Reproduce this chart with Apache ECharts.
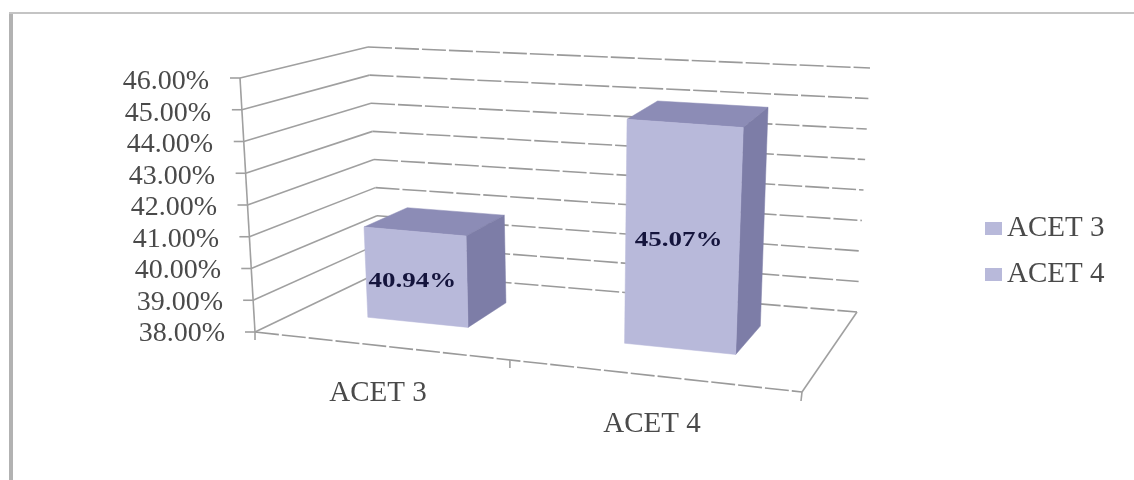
<!DOCTYPE html>
<html>
<head>
<meta charset="utf-8">
<style>html,body{margin:0;padding:0;background:#fff}#c{width:1134px;height:480px}</style>
<script src="https://cdn.jsdelivr.net/npm/echarts@6/dist/echarts.min.js"></script>
</head>
<body>
<div id="c"></div>
<script>
// Chart values
const categories = ['ACET 3', 'ACET 4'];
const acet3Values = [40.94];
const acet4Values = [45.07];
const yTicks = [38, 39, 40, 41, 42, 43, 44, 45, 46];
const yMin = 38;
const yMax = 46;

// Pixel corners of the 3D plot box: f/b = front/back, l/r = left/right, 0/1 = floor/ceiling
const box = {
  fl0: [255, 332], fr0: [802, 392], bl0: [380, 272], br0: [857, 312],
  fl1: [240, 78],  fr1: [815, 124], bl1: [368, 47],  br1: [870, 68]
};
// Footprint of each column on the floor, as fractions of the box
const footprints = [
  { u0: 0.13, u1: 0.322, v0: 0.36, v1: 0.73 },
  { u0: 0.622, u1: 0.835, v0: 0.36, v1: 0.73 }
];
const midTickU = 0.466;

const mix = (a, b, t) => [a[0] + (b[0] - a[0]) * t, a[1] + (b[1] - a[1]) * t];
function project(u, v, h) {
  const floor = mix(mix(box.fl0, box.fr0, u), mix(box.bl0, box.br0, u), v);
  const ceil = mix(mix(box.fl1, box.fr1, u), mix(box.bl1, box.br1, u), v);
  return mix(floor, ceil, h);
}
// Height fraction of a value, read through the value axis
function heightOf(api, value) {
  const y0 = api.coord([0, yMin])[1];
  const y1 = api.coord([0, yMax])[1];
  return (api.coord([0, value])[1] - y0) / (y1 - y0);
}

const lineStyle = { stroke: '#a0a0a0', lineWidth: 1.6, fill: null };
const dashedStyle = { stroke: '#9a9a9a', lineWidth: 1.6, fill: null, lineDash: [24, 3] };
const poly = (pts, style) => ({ type: 'polyline', shape: { points: pts }, style: style || lineStyle });

function renderFrameLine(params, api) {
  const value = api.value(1);
  const h = heightOf(api, value);
  const a = project(0, 0, h), b = project(0, 1, h), c = project(1, 1, h);
  const children = [
    poly([a, b]),
    poly([b, c], dashedStyle),
    poly([[a[0] - 10, a[1]], a])
  ];
  if (value === yMin) {
    const fr = project(1, 0, 0);
    const mid = project(midTickU, 0, 0);
    children.push(
      poly([a, fr], dashedStyle),
      poly([fr, c]),
      poly([a, project(0, 0, 1)]),
      poly([a, [a[0], a[1] + 8]]),
      poly([mid, [mid[0], mid[1] + 8]]),
      poly([fr, [fr[0] - 1, fr[1] + 9]])
    );
  }
  return { type: 'group', children };
}

const faceColors = { front: '#b8b9da', top: '#8c8cb6', side: '#7d7da7' };

function renderColumn(params, api) {
  const value = api.value(1);
  const slot = footprints[api.value(0)];
  const h = heightOf(api, value);
  const p = project;
  const { u0, u1, v0, v1 } = slot;
  const face = (pts, fill) => ({
    type: 'polygon', shape: { points: pts }, style: { fill: fill, stroke: fill, lineWidth: 0.5 }
  });
  const labelAt = mix(p(u0, v0, h / 2), p(u1, v0, h / 2), 0.5);
  return {
    type: 'group',
    children: [
      face([p(u0, v0, h), p(u1, v0, h), p(u1, v1, h), p(u0, v1, h)], faceColors.top),
      face([p(u1, v0, 0), p(u1, v1, 0), p(u1, v1, h), p(u1, v0, h)], faceColors.side),
      face([p(u0, v0, 0), p(u1, v0, 0), p(u1, v0, h), p(u0, v0, h)], faceColors.front),
      {
        type: 'text',
        x: labelAt[0] - 4,
        y: labelAt[1] + 5,
        scaleX: 1.35,
        style: {
          text: value.toFixed(2) + '%',
          x: 0, y: 0,
          align: 'center',
          verticalAlign: 'middle',
          fontFamily: 'Liberation Serif',
          fontWeight: 'bold',
          fontSize: 20,
          fill: '#14143c'
        }
      }
    ]
  };
}

// Tick labels step sideways to follow the slanted axis
const yRich = {};
yTicks.forEach(v => { yRich['t' + v] = { padding: [0, (v - yMin) * 2, 0, 0] }; });

const chart = echarts.init(document.getElementById('c'));
chart.setOption({
  animation: false,
  backgroundColor: '#ffffff',
  grid: { left: 241, top: 82, width: 548, height: 252 },
  xAxis: {
    type: 'category',
    data: categories,
    axisLine: { show: false },
    axisTick: { show: false },
    axisLabel: {
      margin: 45,
      fontFamily: 'Liberation Serif',
      fontSize: 29,
      color: '#4a4a4a',
      formatter: (v, i) => `{c${i}|${v}}`,
      rich: { c0: { padding: [0, 0, 0, 0] }, c1: { padding: [31, 0, 0, 0] } }
    }
  },
  yAxis: {
    type: 'value',
    min: yMin,
    max: yMax,
    interval: 1,
    axisLine: { show: false },
    axisTick: { show: false },
    splitLine: { show: false },
    axisLabel: {
      margin: 16,
      fontFamily: 'Liberation Serif',
      fontSize: 28,
      color: '#4a4a4a',
      formatter: v => `{t${v}|${v.toFixed(2)}%}`,
      rich: yRich
    }
  },
  legend: {
    left: 980,
    top: 209,
    orient: 'vertical',
    icon: 'rect',
    itemWidth: 17,
    itemHeight: 13,
    itemGap: 17,
    data: categories,
    textStyle: { fontFamily: 'Liberation Serif', fontSize: 29, color: '#4a4a4a', padding: [0, 0, 0, 0] }
  },
  graphic: [
    { type: 'rect', shape: { x: 9, y: 13, width: 4, height: 467 }, style: { fill: '#b2b2b2' } },
    { type: 'rect', shape: { x: 9, y: 12, width: 1125, height: 2 }, style: { fill: '#c4c4c4' } }
  ],
  series: [
    {
      name: 'frame',
      type: 'custom',
      renderItem: renderFrameLine,
      data: yTicks.map(v => [0, v]),
      encode: { x: 0, y: 1 },
      z: 1,
      silent: true
    },
    {
      name: categories[0],
      type: 'custom',
      renderItem: renderColumn,
      data: acet3Values.map(v => [0, v]),
      encode: { x: 0, y: 1 },
      itemStyle: { color: '#b8b9da' },
      z: 2
    },
    {
      name: categories[1],
      type: 'custom',
      renderItem: renderColumn,
      data: acet4Values.map(v => [1, v]),
      encode: { x: 0, y: 1 },
      itemStyle: { color: '#b8b9da' },
      z: 2
    }
  ]
});
</script>
</body>
</html>
